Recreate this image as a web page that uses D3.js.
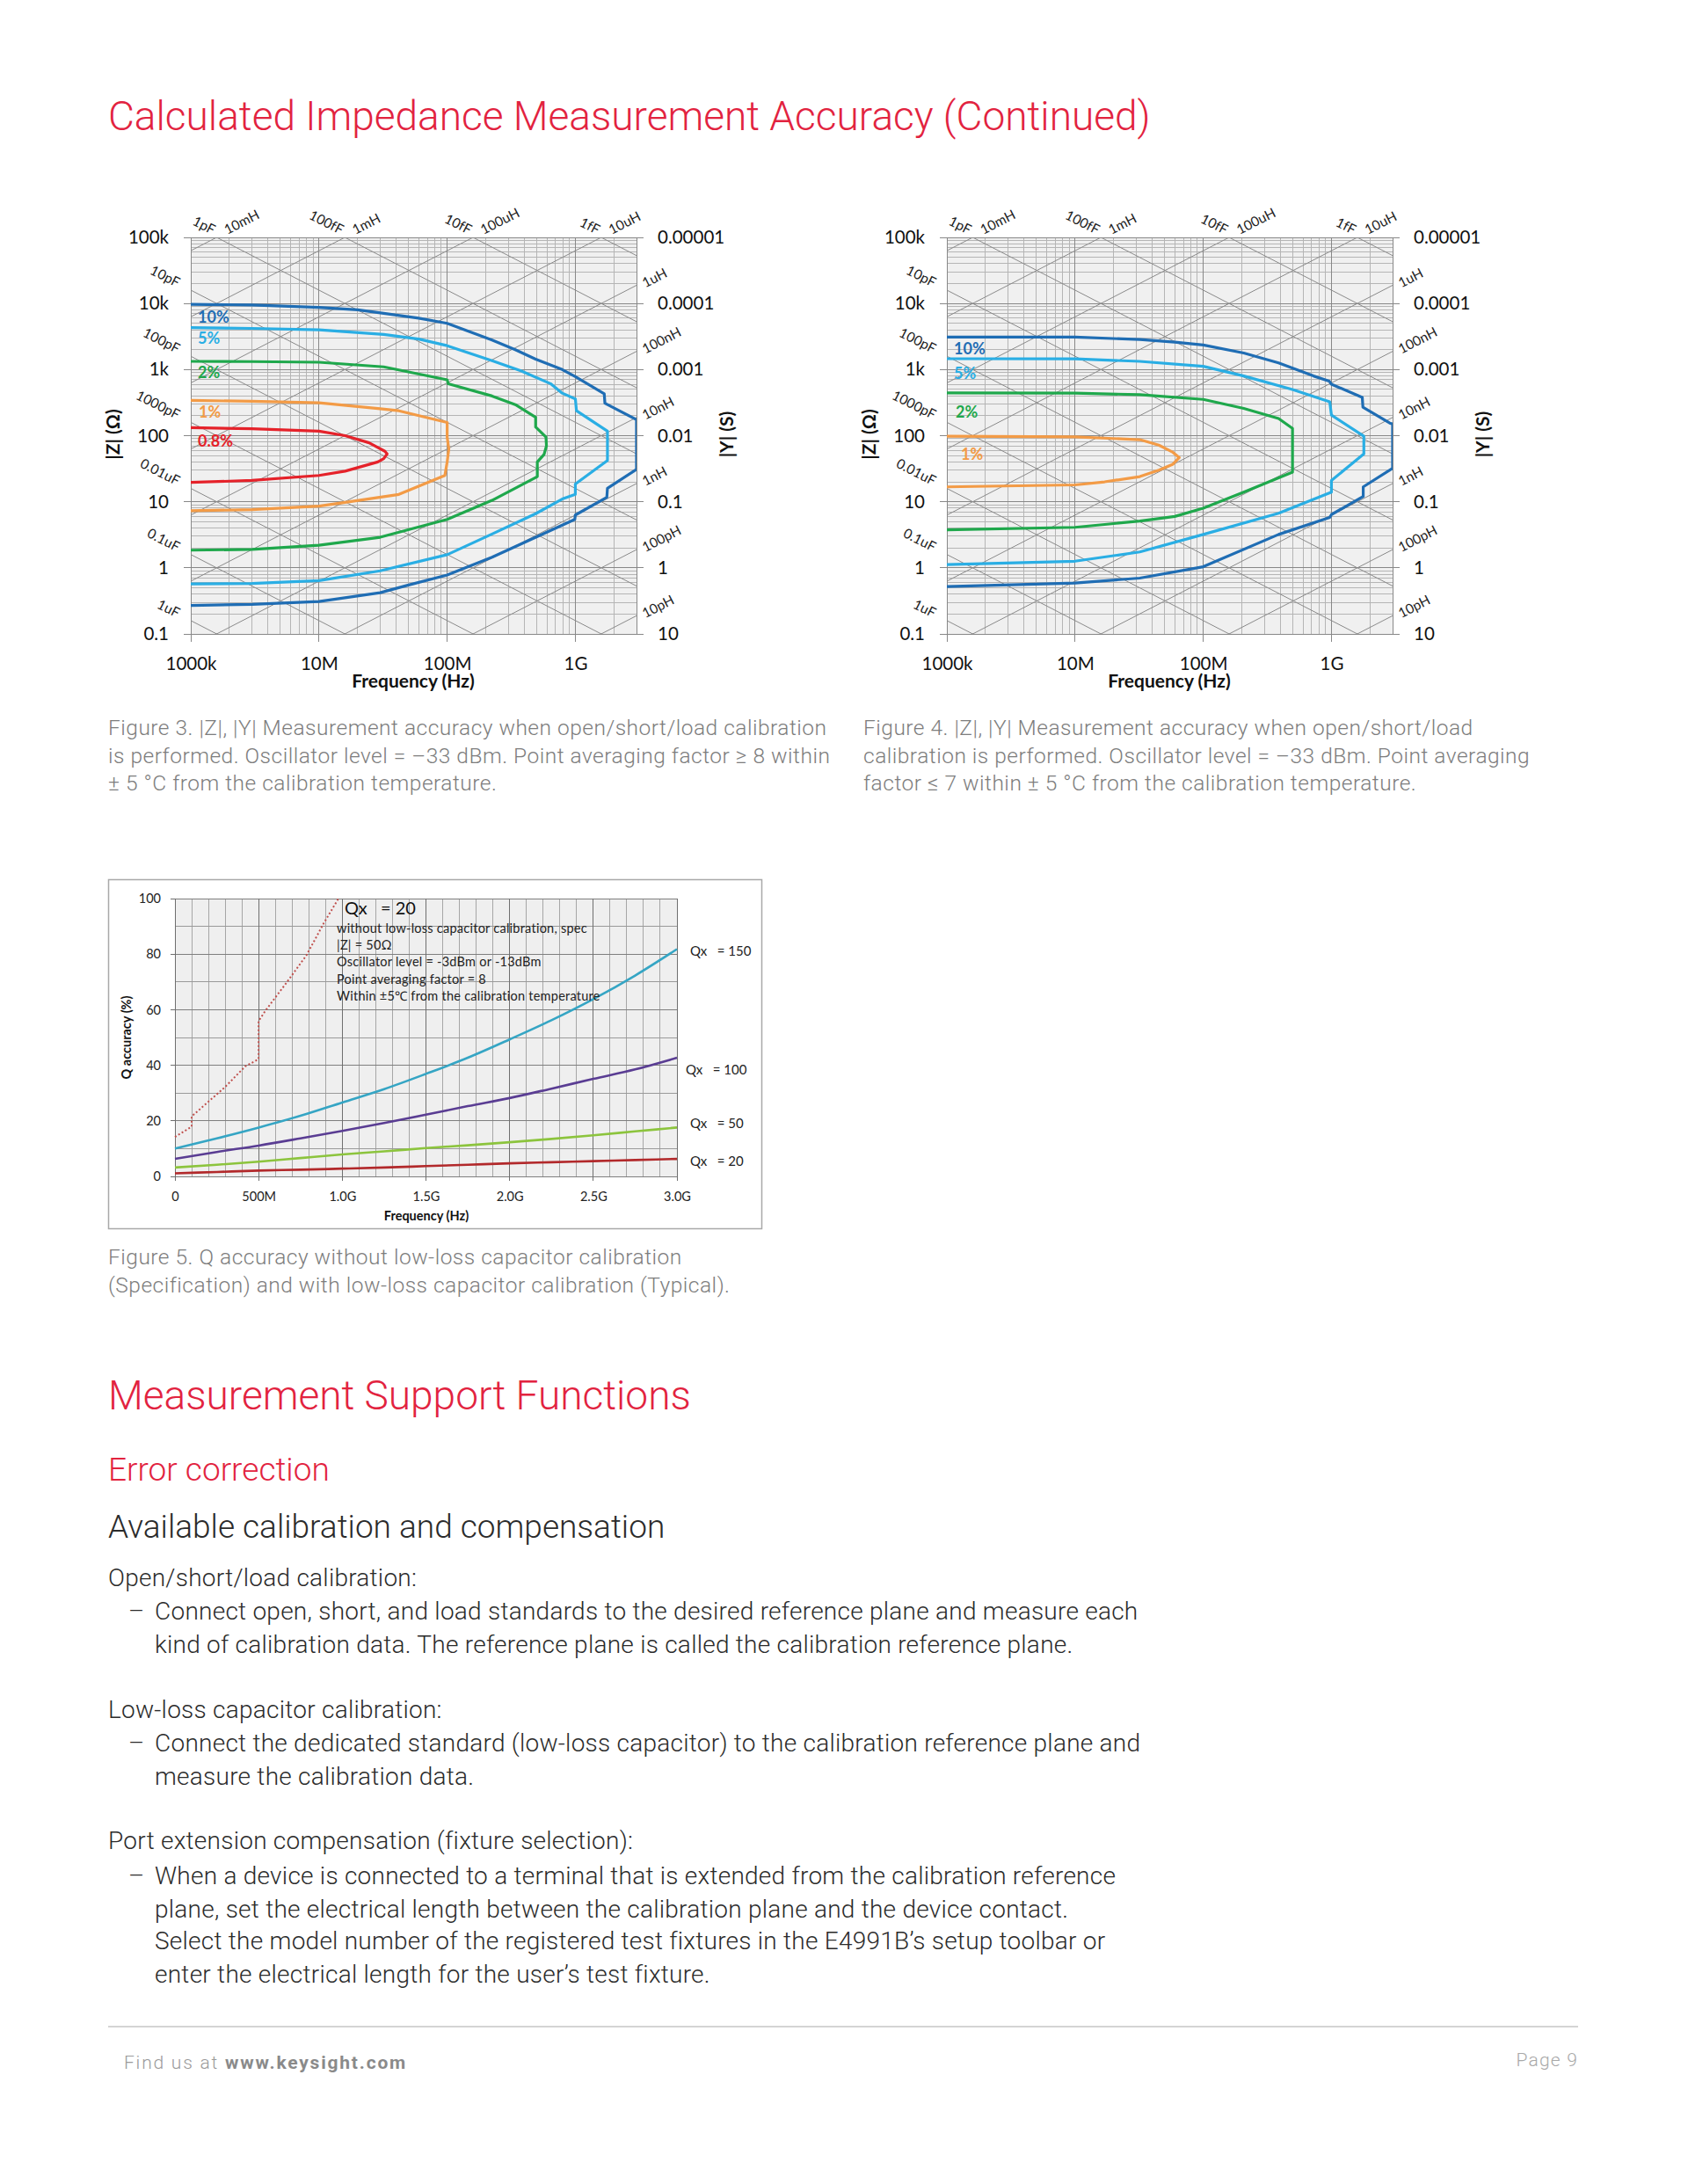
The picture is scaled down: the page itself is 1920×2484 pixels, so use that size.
<!DOCTYPE html>
<html><head><meta charset="utf-8">
<script src="https://cdn.jsdelivr.net/npm/d3@7"></script>
<style>
body{margin:0;background:#fff;}
svg text{font-family:Roboto,"Noto Sans",sans-serif;}
</style></head><body>
<svg id="page" width="1920" height="2484" xmlns="http://www.w3.org/2000/svg"></svg>
<script>
// ---------------- DATA ----------------
// Impedance charts: axes
const fDomain = [1e6, 3e9];
const zDomain = [0.1, 1e5];
const zTicks = [1e5, 1e4, 1e3, 100, 10, 1, 0.1];
const zTickLabels = ["100k", "10k", "1k", "100", "10", "1", "0.1"];
const yTickLabels = ["0.00001", "0.0001", "0.001", "0.01", "0.1", "1", "10"];
const fTicks = [1e6, 1e7, 1e8, 1e9];
const fTickLabels = ["1000k", "10M", "100M", "1G"];
// reference lines (capacitance / inductance)
const capValues = [1e-15, 1e-14, 1e-13, 1e-12, 1e-11, 1e-10, 1e-9, 1e-8, 1e-7, 1e-6];
const capTopLabels = [["1fF", 1e-15], ["10fF", 1e-14], ["100fF", 1e-13], ["1pF", 1e-12]];
const capLeftLabels = [["10pF", 1e-11], ["100pF", 1e-10], ["1000pF", 1e-9], ["0.01uF", 1e-8], ["0.1uF", 1e-7], ["1uF", 1e-6]];
const indValues = [1e-11, 1e-10, 1e-9, 1e-8, 1e-7, 1e-6, 1e-5, 1e-4, 1e-3, 1e-2];
const indTopLabels = [["10mH", 1e-2], ["1mH", 1e-3], ["100uH", 1e-4], ["10uH", 1e-5]];
const indRightLabels = [["1uH", 1e-6], ["100nH", 1e-7], ["10nH", 1e-8], ["1nH", 1e-9], ["100pH", 1e-10], ["10pH", 1e-11]];

// Figure 3 contours [frequency Hz, |Z| ohm]
const fig3_10 = [[1e6,9700],[3e6,9500],[1e7,8700],[2e7,8000],[3.2e7,7100],[6e7,6000],[1e8,5000],[2.24e8,2800],[3.4e8,2000],[4.9e8,1440],[7.9e8,1000],[1e9,780],[1.68e9,430],[1.7e9,310],[3e9,175],[3e9,31],[1.78e9,16],[1.76e9,11.7],[1e9,6.3],[9.9e8,5.4],[2.24e8,1.45],[1e8,0.78],[5e7,0.55],[3e7,0.42],[1e7,0.31],[3e6,0.28],[1e6,0.27]];
const fig3_5 = [[1e6,4300],[3e6,4200],[1e7,4000],[3.2e7,3400],[6e7,2900],[1e8,2300],[2.24e8,1360],[3.76e8,955],[6.4e8,612],[7.9e8,440],[1e9,360],[1.02e9,239],[1.78e9,117],[1.78e9,42],[1e9,18.5],[1e9,12.9],[7.9e8,11],[4.9e8,6.6],[2.24e8,3.25],[1e8,1.58],[3e7,0.9],[1e7,0.64],[3e6,0.58],[1e6,0.57]];
const fig3_2 = [[1e6,1330],[3e6,1320],[1e7,1290],[3.2e7,1100],[1e8,700],[1.02e8,610],[2.24e8,398],[3.4e8,295],[4.9e8,190],[4.9e8,135],[5.9e8,95],[5.95e8,70],[5.7e8,52],[5.05e8,40],[5.05e8,24],[2.24e8,10.5],[1e8,5.4],[3e7,2.9],[1e7,2.2],[3e6,1.9],[1e6,1.85]];
const fig3_1 = [[1e6,341],[3e6,331],[1e7,314],[3e7,256],[4.2e7,238],[1e8,158],[1e8,95],[1.03e8,63],[1e8,40],[9.6e7,25],[4.2e7,12.9],[1.6e7,9.8],[1e7,8.6],[3e6,7.6],[1e6,7.3]];
const fig3_08 = [[1e6,132],[3e6,127],[1e7,117],[1.6e7,100],[2.46e7,78],[3.27e7,58],[3.4e7,53],[3.2e7,45],[2.88e7,40],[1.6e7,29],[1e7,25],[3e6,21],[1e6,19.6]];

// Figure 4 contours
const fig4_10 = [[1e6,3100],[1e7,3100],[3.2e7,2850],[6e7,2600],[1e8,2350],[2.07e8,1780],[3.87e8,1260],[7.24e8,800],[9.6e8,670],[1e9,600],[1.74e9,380],[1.76e9,270],[2.85e9,155],[3e9,150],[3e9,32],[1.77e9,16.8],[1.77e9,12],[1e9,6.4],[9.7e8,5.8],[3.87e8,3.2],[1e8,1.04],[3.2e7,0.7],[1e7,0.59],[1e6,0.52]];
const fig4_5 = [[1e6,1460],[1e7,1450],[3.2e7,1330],[1e8,1120],[2.07e8,800],[4.96e8,500],[9.7e8,325],[1e9,205],[1.79e9,98],[1.79e9,53],[1e9,21],[1e9,14],[3.87e8,6.7],[1e8,3.2],[3.2e7,1.74],[1e7,1.26],[1e6,1.12]];
const fig4_2 = [[1e6,444],[1e7,440],[3.2e7,417],[1e8,354],[2.07e8,258],[3.87e8,182],[4.97e8,129],[4.97e8,28],[2.07e8,14],[1e8,8],[6e7,6],[3.2e7,5.1],[1e7,4.1],[1e6,3.76]];
const fig4_1 = [[1e6,98],[1e7,96],[3.2e7,87],[4.5e7,72],[5.8e7,56],[6.5e7,46.6],[5.8e7,37],[4.5e7,30],[3.2e7,24],[1.7e7,20],[1e7,18],[1e6,16.8]];

const fig3Labels = ["10%", "5%", "2%", "1%", "0.8%"];
const fig4Labels = ["10%", "5%", "2%", "1%"];

// Figure 5: Q accuracy
const qFreq = [0, 0.25, 0.5, 0.75, 1.0, 1.25, 1.5, 1.75, 2.0, 2.25, 2.5, 2.75, 3.0]; // GHz
const q150 = [10.0, 13.7, 17.6, 21.8, 26.6, 31.4, 36.9, 42.7, 49.3, 56.2, 63.8, 72.3, 81.8];
const q100 = [6.3, 8.8, 11.1, 13.7, 16.4, 19.2, 22.2, 25.3, 28.2, 31.6, 35.1, 38.5, 42.7];
const q50 = [3.2, 4.2, 5.3, 6.6, 7.9, 9.0, 10.2, 11.2, 12.3, 13.5, 14.8, 16.2, 17.6];
const q20 = [1.1, 1.6, 2.1, 2.4, 2.8, 3.2, 3.7, 4.2, 4.7, 5.1, 5.5, 5.9, 6.3];
const specFreq = [0, 0.1, 0.1, 0.2, 0.3, 0.42, 0.5, 0.5, 0.54, 0.665, 0.786, 0.89, 0.977];
const specQ20 = [14.2, 17.9, 21.6, 26.9, 32.2, 39.6, 42.2, 55.9, 59.6, 69.6, 79.6, 91.2, 100];
const qYTicks = [0, 20, 40, 60, 80, 100];
const qXTicks = [0, 0.5, 1.0, 1.5, 2.0, 2.5, 3.0];
const qXTickLabels = ["0", "500M", "1.0G", "1.5G", "2.0G", "2.5G", "3.0G"];
const qSeriesLabels = ["Qx   = 150", "Qx   = 100", "Qx   = 50", "Qx   = 20"];
const qNote = ["without low-loss capacitor calibration, spec", "|Z| = 50Ω", "Oscillator level = -3dBm or -13dBm", "Point averaging factor = 8", "Within ±5℃ from the calibration temperature"];

// ---------------- DRAWING ----------------
const svg = d3.select('#page');
const CF = 'Lato,"Open Sans",sans-serif';
const RED = '#e2233f';
const TAU = 2 * Math.PI;

function drawImpedance(ox, curves, colors, labels, labelOff) {
  const L = 217 + ox, R = 724 + ox, T = 270, B = 721;
  const x = d3.scaleLog().domain(fDomain).range([L, R]);
  const y = d3.scaleLog().domain(zDomain).range([B, T]);
  const g = svg.append('g');
  const clipId = 'clip' + ox;
  svg.append('clipPath').attr('id', clipId).append('rect')
    .attr('x', L).attr('y', T).attr('width', R - L).attr('height', B - T);
  g.append('rect').attr('x', L).attr('y', T).attr('width', R - L).attr('height', B - T).attr('fill', '#f0f0f0');

  const isDec = v => Math.abs(Math.log10(v) - Math.round(Math.log10(v))) < 1e-9;
  const vLines = [];
  for (let e = 6; e <= 9; e++) for (let k = 1; k <= 9; k++) { const v = k * Math.pow(10, e); if (v <= fDomain[1] * 1.0001) vLines.push(v); }
  const hLines = [];
  for (let e = -1; e <= 4; e++) for (let k = 1; k <= 9; k++) { const v = k * Math.pow(10, e); if (v <= zDomain[1] * 1.0001) hLines.push(v); }
  hLines.push(1e5);
  const grid = g.append('g').attr('shape-rendering', 'crispEdges');
  grid.selectAll('.hm').data(hLines.filter(v => !isDec(v))).join('line')
    .attr('x1', L).attr('x2', R).attr('y1', d => y(d)).attr('y2', d => y(d)).attr('stroke', '#b5b5b5');
  grid.selectAll('.vm').data(vLines.filter(v => !isDec(v))).join('line')
    .attr('y1', T).attr('y2', B).attr('x1', d => x(d)).attr('x2', d => x(d)).attr('stroke', '#b5b5b5');
  grid.selectAll('.hM').data(hLines.filter(isDec)).join('line')
    .attr('x1', L - 8).attr('x2', R + 8).attr('y1', d => y(d)).attr('y2', d => y(d)).attr('stroke', '#888');
  grid.selectAll('.vM').data(vLines.filter(isDec)).join('line')
    .attr('y1', T).attr('y2', B + 9).attr('x1', d => x(d)).attr('x2', d => x(d)).attr('stroke', '#888');
  grid.append('line').attr('x1', R).attr('x2', R).attr('y1', T).attr('y2', B).attr('stroke', '#888');

  // diagonal C and L lines
  const diag = g.append('g').attr('clip-path', `url(#${clipId})`);
  const zc = (f, c) => 1 / (TAU * f * c), zl = (f, l) => TAU * f * l;
  diag.selectAll('.c').data(capValues).join('line')
    .attr('x1', x(fDomain[0])).attr('y1', c => y(zc(fDomain[0], c)))
    .attr('x2', x(fDomain[1])).attr('y2', c => y(zc(fDomain[1], c)))
    .attr('stroke', '#8a8a8a').attr('stroke-width', 1);
  diag.selectAll('.l').data(indValues).join('line')
    .attr('x1', x(fDomain[0])).attr('y1', l => y(zl(fDomain[0], l)))
    .attr('x2', x(fDomain[1])).attr('y2', l => y(zl(fDomain[1], l)))
    .attr('stroke', '#8a8a8a').attr('stroke-width', 1);

  // curves
  const line = d3.line().x(d => x(d[0])).y(d => y(d[1]));
  g.append('g').attr('clip-path', `url(#${clipId})`).selectAll('path').data(curves).join('path')
    .attr('d', line).attr('fill', 'none').attr('stroke', (d, i) => colors[i])
    .attr('stroke-width', 3.2).attr('stroke-linejoin', 'round');

  // percent labels
  g.selectAll('.pl').data(labels).join('text')
    .attr('x', (d, i) => L + labelOff[i][0]).attr('y', (d, i) => y(curves[i][0][1]) + labelOff[i][1])
    .attr('dominant-baseline', 'middle').attr('fill', (d, i) => colors[i])
    .style('font-family', CF).style('font-weight', 700).style('font-size', '18px').text(d => d);

  // axes
  const axL = d3.axisLeft(y).tickValues(zTicks).tickFormat((d, i) => zTickLabels[i]).tickSize(0).tickPadding(25);
  const gl = g.append('g').attr('transform', `translate(${L},0)`).call(axL);
  const axR = d3.axisRight(y).tickValues(zTicks).tickFormat((d, i) => yTickLabels[i]).tickSize(0).tickPadding(24);
  const gr = g.append('g').attr('transform', `translate(${R},0)`).call(axR);
  const axB = d3.axisBottom(x).tickValues(fTicks).tickFormat((d, i) => fTickLabels[i]).tickSize(0).tickPadding(26);
  const gb = g.append('g').attr('transform', `translate(0,${B})`).call(axB);
  [gl, gr, gb].forEach(a => {
    a.select('.domain').remove();
    a.selectAll('text').style('font-family', CF).style('font-size', '20.5px').attr('fill', '#111');
  });

  const small = (sel) => sel.style('font-family', CF).style('font-size', '15.5px').attr('fill', '#222');
  capLeftLabels.forEach(([t, c]) => {
    const px = L - 16, py = y(zc(fDomain[0], c)) - 3;
    small(g.append('text').attr('text-anchor', 'end').attr('transform', `translate(${px},${py}) rotate(27)`).text(t));
  });
  capTopLabels.forEach(([t, c]) => {
    const fc = 1 / (TAU * c * zDomain[1]);
    small(g.append('text').attr('text-anchor', 'end').attr('transform', `translate(${x(fc) - 5},${T - 3}) rotate(27)`).text(t));
  });
  indTopLabels.forEach(([t, l]) => {
    const fc = zDomain[1] / (TAU * l);
    small(g.append('text').attr('text-anchor', 'start').attr('transform', `translate(${x(fc) + 12},${T - 3}) rotate(-27)`).text(t));
  });
  indRightLabels.forEach(([t, l]) => {
    const py = y(zl(fDomain[1], l)) + 3;
    small(g.append('text').attr('text-anchor', 'start').attr('transform', `translate(${R + 10},${py}) rotate(-27)`).text(t));
  });

  const bold = sel => sel.style('font-family', CF).style('font-weight', 700).style('font-size', '21px').attr('fill', '#111');
  bold(g.append('text').attr('text-anchor', 'middle').attr('transform', `translate(${131 + ox},494) rotate(-90)`).attr('dominant-baseline', 'middle').text('|Z| (Ω)'));
  bold(g.append('text').attr('text-anchor', 'middle').attr('transform', `translate(${829 + ox},494) rotate(-90)`).attr('dominant-baseline', 'middle').text('|Y| (S)'));
  bold(g.append('text').attr('text-anchor', 'middle').attr('x', 470 + ox).attr('y', 782).text('Frequency (Hz)'));
}

const cols3 = ['#1f6db4', '#2aaee4', '#1fa84c', '#f39b46', '#e5222a'];
drawImpedance(0, [fig3_10, fig3_5, fig3_2, fig3_1, fig3_08], cols3, fig3Labels,
  [[8, 16], [8, 14], [8, 14], [9, 15], [8, 17]]);
drawImpedance(860, [fig4_10, fig4_5, fig4_2, fig4_1], cols3.slice(0, 4), fig4Labels,
  [[8, 15], [8, 18], [10, 24], [16, 22]]);

// ---------- Figure 5 ----------
(function () {
  const L = 199, R = 770, T = 1022, B = 1338;
  const x = d3.scaleLinear().domain([0, 3]).range([L, R]);
  const y = d3.scaleLinear().domain([0, 100]).range([B, T]);
  const g = svg.append('g');
  g.append('rect').attr('x', 123.5).attr('y', 1000.5).attr('width', 743).attr('height', 397)
    .attr('fill', '#fff').attr('stroke', '#a9a9a9').attr('stroke-width', 1.5);
  g.append('rect').attr('x', L).attr('y', T).attr('width', R - L).attr('height', B - T).attr('fill', '#efefef');
  const grid = g.append('g').attr('shape-rendering', 'crispEdges');
  const vx = d3.range(0, 31).map(i => i / 10);
  grid.selectAll('.v').data(vx.filter((d, i) => i % 5 !== 0)).join('line')
    .attr('x1', d => x(d)).attr('x2', d => x(d)).attr('y1', T).attr('y2', B).attr('stroke', '#a6a6a6');
  const hy = d3.range(0, 11).map(i => i * 10);
  grid.selectAll('.h').data(hy).join('line')
    .attr('x1', L).attr('x2', R).attr('y1', d => y(d)).attr('y2', d => y(d))
    .attr('stroke', d => d % 20 === 0 ? '#7f7f7f' : '#9a9a9a');
  grid.selectAll('.vM').data(qXTicks).join('line')
    .attr('x1', d => x(d)).attr('x2', d => x(d)).attr('y1', T).attr('y2', B + 5).attr('stroke', '#6f6f6f');
  grid.selectAll('.yt').data(qYTicks).join('line')
    .attr('x1', L - 5).attr('x2', L).attr('y1', d => y(d)).attr('y2', d => y(d)).attr('stroke', '#6f6f6f');

  const mk = arr => qFreq.map((f, i) => [f, arr[i]]);
  const line = d3.line().x(d => x(d[0])).y(d => y(d[1])).curve(d3.curveMonotoneX);
  const series = [[mk(q20), '#b2292b'], [mk(q50), '#8cc43d'], [mk(q100), '#5a3d93'], [mk(q150), '#35a5c4']];
  series.forEach(([d, c]) => g.append('path').attr('d', line(d)).attr('fill', 'none').attr('stroke', c).attr('stroke-width', 2.6));
  const spec = specFreq.map((f, i) => [f, specQ20[i]]);
  g.append('path').attr('d', d3.line().x(d => x(d[0])).y(d => y(d[1]))(spec)).attr('fill', 'none')
    .attr('stroke', '#c0504d').attr('stroke-width', 2).attr('stroke-dasharray', '2,2.5');

  const ax = d3.axisLeft(y).tickValues(qYTicks).tickSize(0).tickPadding(16);
  const gl = g.append('g').attr('transform', `translate(${L},0)`).call(ax);
  const bx = d3.axisBottom(x).tickValues(qXTicks).tickFormat((d, i) => qXTickLabels[i]).tickSize(0).tickPadding(18);
  const gb = g.append('g').attr('transform', `translate(0,${B})`).call(bx);
  [gl, gb].forEach(a => { a.select('.domain').remove(); a.selectAll('text').style('font-family', CF).style('font-size', '14.5px').attr('fill', '#222'); });

  g.append('text').attr('x', 485).attr('y', 1388).attr('text-anchor', 'middle')
    .style('font-family', CF).style('font-weight', 700).style('font-size', '14.5px').attr('fill', '#111').text('Frequency (Hz)');
  g.append('text').attr('transform', 'translate(145,1180) rotate(-90)').attr('text-anchor', 'middle').attr('dominant-baseline', 'middle')
    .style('font-family', CF).style('font-weight', 700).style('font-size', '14.5px').attr('fill', '#111').text('Q accuracy  (%)');

  g.append('text').attr('x', 392).attr('y', 1040).attr('xml:space', 'preserve').style('white-space', 'pre')
    .style('font-family', CF).style('font-size', '20px').attr('fill', '#111').text('Qx   = 20');
  qNote.forEach((t, i) => g.append('text').attr('x', 383).attr('y', 1061 + i * 19.2)
    .style('font-family', CF).style('font-size', '14.5px').style('letter-spacing', '0.25px').attr('fill', '#222').text(t));

  const labY = [1083, 1218, 1279, 1322];
  qSeriesLabels.forEach((t, i) => g.append('text').attr('x', i === 1 ? 780 : 785).attr('y', labY[i])
    .attr('dominant-baseline', 'middle').style('white-space', 'pre')
    .style('font-family', CF).style('font-size', '15px').attr('fill', '#222').text(t));
})();

// ---------- Page text ----------
function txt(x, y, s, size, color, weight, anchor, ls) {
  return svg.append('text').attr('x', x).attr('y', y).attr('fill', color)
    .style('font-size', size + 'px').style('font-weight', weight || 300)
    .style('letter-spacing', (ls || 0) + 'px')
    .attr('text-anchor', anchor || 'start').text(s);
}
txt(123, 148, 'Calculated Impedance Measurement Accuracy (Continued)', 46, RED);

const cap3 = ['Figure 3. |Z|, |Y| Measurement accuracy when open/short/load calibration',
  'is performed. Oscillator level = –33 dBm. Point averaging factor ≥ 8 within',
  '± 5 °C from the calibration temperature.'];
const cap4 = ['Figure 4. |Z|, |Y| Measurement accuracy when open/short/load',
  'calibration is performed. Oscillator level = –33 dBm. Point averaging',
  'factor ≤ 7 within ± 5 °C from the calibration temperature.'];
const cap5 = ['Figure 5. Q accuracy without low-loss capacitor calibration',
  '(Specification) and with low-loss capacitor calibration (Typical).'];
cap3.forEach((t, i) => txt(123, 836 + i * 31.6, t, 24.5, '#7d7d7d', 300, 'start', 0.5));
cap4.forEach((t, i) => txt(982, 836 + i * 31.6, t, 24.5, '#7d7d7d', 300, 'start', 0.5));
cap5.forEach((t, i) => txt(123, 1438 + i * 31.6, t, 24.5, '#7d7d7d', 300, 'start', 0.5));

txt(123, 1603, 'Measurement Support Functions', 46, RED);
txt(123, 1684, 'Error correction', 37, RED);
txt(123, 1749, 'Available calibration and compensation', 37, '#2b2b2b');

const body = [
  [123, 1804, 'Open/short/load calibration:'],
  [146, 1842, '–'], [176, 1842, 'Connect open, short, and load standards to the desired reference plane and measure each'],
  [176, 1880, 'kind of calibration data. The reference plane is called the calibration reference plane.'],
  [123, 1954, 'Low-loss capacitor calibration:'],
  [146, 1992, '–'], [176, 1992, 'Connect the dedicated standard (low-loss capacitor) to the calibration reference plane and'],
  [176, 2030, 'measure the calibration data.'],
  [123, 2103, 'Port extension compensation (fixture selection):'],
  [146, 2143, '–'], [176, 2143, 'When a device is connected to a terminal that is extended from the calibration reference'],
  [176, 2181, 'plane, set the electrical length between the calibration plane and the device contact.'],
  [176, 2217, 'Select the model number of the registered test fixtures in the E4991B’s setup toolbar or'],
  [176, 2255, 'enter the electrical length for the user’s test fixture.']
];
body.forEach(([x, y, t]) => txt(x, y, t, 28, '#2b2b2b', 300, 'start', 0.25));

svg.append('line').attr('x1', 123).attr('x2', 1795).attr('y1', 2305).attr('y2', 2305).attr('stroke', '#d4d4d4').attr('stroke-width', 2);
const foot = svg.append('text').attr('x', 141).attr('y', 2353).attr('fill', '#9a9a9a').style('font-size', '21px').style('letter-spacing', '1.8px');
foot.append('tspan').style('font-weight', 300).text('Find us at ');
foot.append('tspan').style('font-weight', 700).attr('fill', '#8a8a8a').text('www.keysight.com');
txt(1795, 2350, 'Page 9', 21, '#a8a8a8', 300, 'end', 1.2);
</script>
</body></html>
